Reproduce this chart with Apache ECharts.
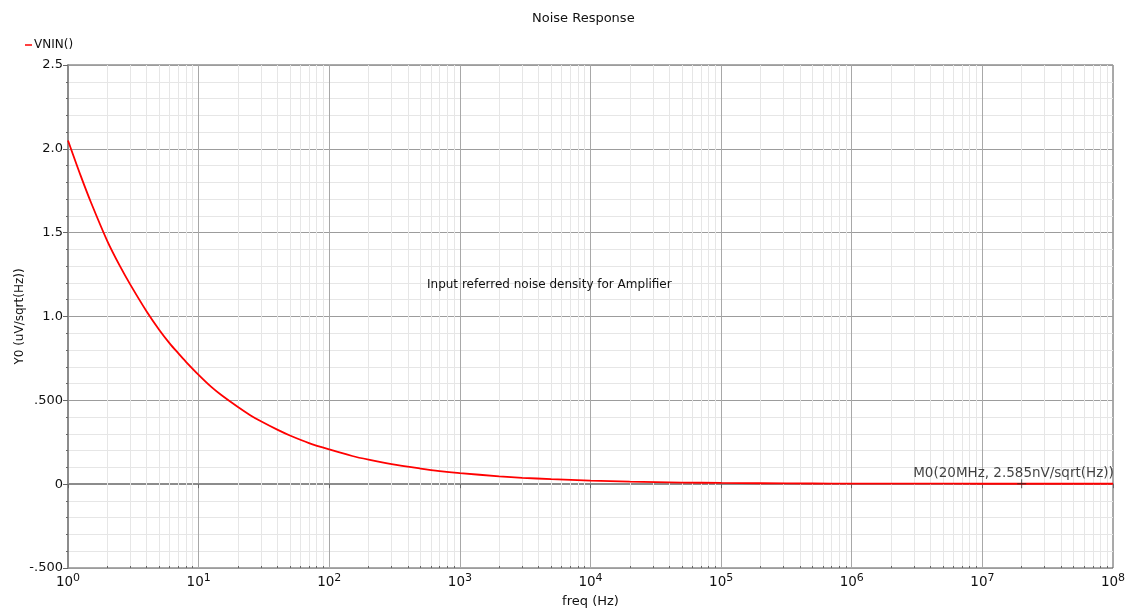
<!DOCTYPE html>
<html>
<head>
<meta charset="utf-8">
<script src="https://cdn.jsdelivr.net/npm/echarts@6/dist/echarts.min.js"></script>
<style>html,body{margin:0;padding:0;background:#fff;}#c{width:1132px;height:610px;}</style>
</head>
<body>
<div id="c"></div>
<script>
// frequency (Hz) and input-referred noise (uV/sqrt(Hz))
const freq = [1, 1.25, 1.5, 2, 2.5, 3, 4, 5, 6, 7, 8, 10, 12.5, 15, 20, 25, 30, 40, 50, 70, 100, 150, 200, 300, 500, 700, 1000, 2000, 3000, 5000, 1e4, 2e4, 5e4, 1e5, 2e5, 5e5, 1e6, 3e6, 1e7, 2e7, 5e7, 1e8];
const vnin = [2.05, 1.84, 1.68, 1.45, 1.30, 1.19, 1.03, 0.92, 0.84, 0.78, 0.73, 0.652, 0.58, 0.53, 0.46, 0.41, 0.375, 0.325, 0.29, 0.245, 0.207, 0.168, 0.146, 0.119, 0.093, 0.078, 0.066, 0.047, 0.038, 0.030, 0.021, 0.015, 0.0097, 0.0072, 0.0055, 0.0040, 0.0032, 0.0028, 0.0026, 0.002585, 0.0026, 0.0026];
const marker = [2e7, 0.002585];
const markerText = 'M0(20MHz, 2.585nV/sqrt(Hz))';
const decades = [1, 10, 100, 1e3, 1e4, 1e5, 1e6, 1e7];
const minorMult = [2, 3, 4, 5, 6, 7, 8, 9];
const yTickLabels = {'-0.5': '-.500', '0': '0', '0.5': '.500', '1': '1.0', '1.5': '1.5', '2': '2.0', '2.5': '2.5'};

const minorF = [];
decades.forEach(d => minorMult.forEach(m => minorF.push(d * m)));

const chart = echarts.init(document.getElementById('c'), null, {renderer: 'canvas'});
const FONT = 'DejaVu Sans';
chart.setOption({
  animation: false,
  backgroundColor: '#fff',
  title: {
    text: 'Noise Response', left: 527, top: 7,
    textStyle: {fontFamily: FONT, fontSize: 13, fontWeight: 'normal', color: '#111'}
  },
  legend: {
    data: ['VNIN()'], left: 20, top: 34, icon: 'rect', itemWidth: 7, itemHeight: 1.5,
    textStyle: {fontFamily: FONT, fontSize: 12, color: '#111', padding: [0, 0, 0, -3]}
  },
  grid: {left: 68, right: 19, top: 65, bottom: 42, outerBoundsMode: 'none', containLabel: false,
    show: true, borderColor: '#555', borderWidth: 1},
  xAxis: {
    type: 'log', logBase: 10, min: 1, max: 1e8,
    name: 'freq (Hz)', nameLocation: 'middle', nameGap: 27, nameMoveOverlap: false,
    nameTextStyle: {fontFamily: FONT, fontSize: 13, color: '#111'},
    axisLine: {lineStyle: {color: '#8c8c8c', width: 2}},
    axisTick: {show: true, length: 4, lineStyle: {color: '#666'}},
    splitLine: {show: true, lineStyle: {color: '#a8a8a8', width: 1}},
    axisLabel: {
      margin: 5,
      formatter: v => '{b|10}{s|' + Math.round(Math.log10(v)) + '}',
      rich: {
        b: {fontFamily: FONT, fontSize: 13.5, color: '#111'},
        s: {fontFamily: FONT, fontSize: 11, color: '#111', padding: [0, 0, 8, 0]}
      }
    }
  },
  yAxis: {
    type: 'value', min: -0.5, max: 2.5, interval: 0.5,
    name: 'Y0 (uV/sqrt(Hz))', nameLocation: 'middle', nameGap: 42, nameMoveOverlap: false,
    nameTextStyle: {fontFamily: FONT, fontSize: 12, color: '#111'},
    axisLine: {show: true, lineStyle: {color: '#8c8c8c', width: 2}},
    axisTick: {show: true, length: 5, lineStyle: {color: '#666'}},
    minorTick: {show: true, splitNumber: 5, length: 2, lineStyle: {color: '#666'}},
    splitLine: {show: true, lineStyle: {color: '#9c9c9c', width: 1}},
    minorSplitLine: {show: true, lineStyle: {color: '#e6e6e6', width: 1}},
    axisLabel: {
      margin: 5, fontFamily: FONT, fontSize: 13, color: '#111',
      formatter: v => yTickLabels[String(Math.round(v * 10) / 10)] || ''
    }
  },
  graphic: [{
    type: 'text', left: 427, top: 279, z: 20, silent: true,
    style: {text: 'Input referred noise density for Amplifier', fontFamily: FONT, fontSize: 12, fill: '#111', stroke: null, lineWidth: 0}
  }],
  series: [
    {
      name: 'minor-grid', type: 'line', data: [], z: 1, silent: true,
      markLine: {
        silent: true, symbol: 'none', animation: false, label: {show: false},
        lineStyle: {color: '#e6e6e6', width: 1, type: 'solid'},
        data: minorF.map(f => ({xAxis: f}))
      }
    },
    {
      name: 'minor-ticks', type: 'line', data: [], z: 4, silent: true,
      markLine: {
        silent: true, symbol: 'none', animation: false, label: {show: false},
        lineStyle: {color: '#666', width: 1, type: 'solid'},
        data: minorF.map(f => [{coord: [f, -0.5]}, {coord: [f, -0.488]}])
      }
    },
    {
      name: 'VNIN()', type: 'line', z: 5, smooth: 0.3, showSymbol: false, symbol: 'none',
      color: '#ff0000',
      lineStyle: {color: '#ff0000', width: 1.8},
      data: freq.map((f, i) => [f, vnin[i]])
    },
    {
      name: 'M0', type: 'scatter', z: 6, silent: true,
      symbol: 'path://M-0.5,-5h1v10h-1zM-5,-0.5h10v1h-10z', symbolSize: 9,
      itemStyle: {color: '#222'},
      label: {
        show: true, formatter: markerText, position: [-104, -13], align: 'left', verticalAlign: 'top',
        fontFamily: FONT, fontSize: 13.5, color: '#111'
      },
      data: [marker]
    }
  ]
});
</script>
</body>
</html>
